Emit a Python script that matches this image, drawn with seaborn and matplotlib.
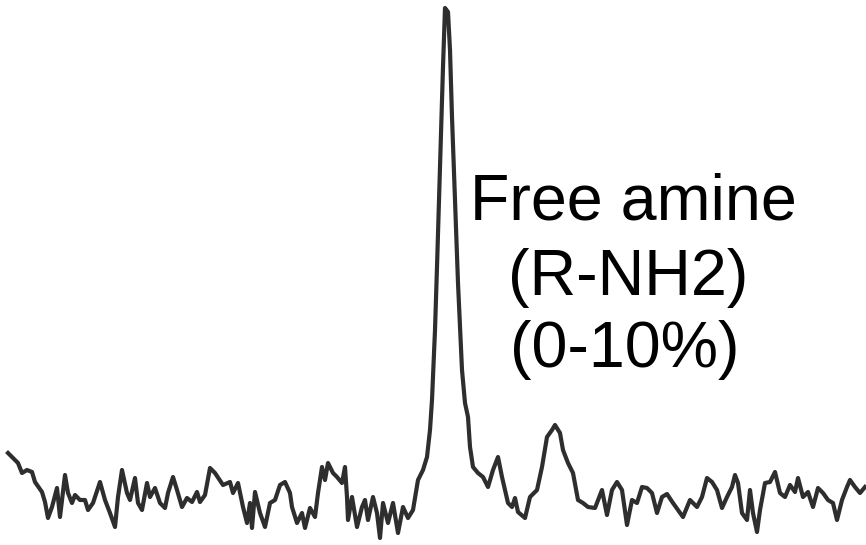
import matplotlib
matplotlib.use("Agg")
import matplotlib.pyplot as plt
import seaborn as sns
import pandas as pd

# Trace of the spectrum (position along the axis, signal height)
position = [8, 13, 18, 22, 27, 32, 35, 42, 45, 48, 52, 57, 60, 65, 68, 72, 75, 80, 85, 88,
            93, 100, 105, 110, 115, 118, 122, 127, 130, 135, 138, 142, 147, 150, 155, 160, 165, 168, 173, 177,
            182, 187, 192, 197, 200, 205, 210, 215, 223, 230, 233, 238, 243, 247, 250, 252, 255, 260, 265, 270,
            275, 280, 285, 290, 292, 297, 302, 305, 310, 315, 318, 322, 325, 328, 333, 337, 342, 345, 347, 348,
            352, 357, 362, 365, 368, 373, 377, 380, 383, 388, 393, 398, 403, 408, 413, 418, 423, 427, 430, 432,
            435, 437, 440, 443, 445, 448, 450, 452, 455, 458, 462, 465, 468, 470, 473, 478, 483, 488, 493, 498,
            502, 508, 512, 515, 518, 525, 530, 537, 542, 547, 552, 555, 560, 563, 568, 573, 578, 583, 588, 595,
            602, 607, 612, 617, 622, 627, 632, 637, 642, 647, 652, 657, 662, 667, 673, 678, 683, 690, 697, 702,
            707, 712, 717, 722, 727, 732, 735, 738, 742, 747, 750, 753, 757, 760, 765, 770, 775, 780, 785, 790,
            795, 798, 803, 808, 813, 818, 823, 828, 833, 837, 842, 847, 850, 855, 860, 865]
pixel_row = [453, 458, 463, 473, 470, 472, 482, 492, 502, 518, 507, 488, 517, 475, 493, 503, 495, 500, 500, 510,
             503, 482, 500, 513, 527, 497, 470, 493, 500, 478, 503, 510, 483, 497, 488, 503, 508, 493, 477, 490,
             507, 498, 502, 492, 502, 495, 468, 473, 485, 482, 493, 483, 507, 523, 503, 528, 492, 513, 527, 503,
             500, 485, 482, 493, 507, 523, 513, 528, 508, 517, 493, 467, 480, 463, 473, 477, 483, 467, 497, 520,
             497, 527, 507, 500, 520, 497, 513, 538, 503, 523, 503, 533, 507, 518, 510, 480, 470, 457, 430, 400,
             330, 267, 167, 67, 8, 12, 50, 117, 200, 283, 370, 403, 417, 447, 467, 473, 477, 487, 470, 457,
             477, 503, 507, 498, 512, 518, 497, 490, 467, 437, 430, 425, 433, 450, 463, 473, 500, 503, 507, 508,
             490, 515, 490, 482, 490, 525, 500, 503, 487, 488, 493, 513, 497, 494, 503, 510, 517, 500, 507, 497,
             478, 482, 490, 508, 497, 487, 475, 483, 513, 520, 490, 513, 532, 510, 483, 482, 472, 493, 497, 485,
             492, 478, 497, 492, 507, 488, 493, 500, 503, 520, 500, 487, 480, 487, 493, 487]
signal = [545 - r for r in pixel_row]

label_lines = ["Free amine", "(R-NH2)", "(0-10%)"]

W, H = 866, 545
fig = plt.figure(figsize=(W / 100, H / 100), dpi=100)
ax = fig.add_axes([0, 0, 1, 1])

df = pd.DataFrame({"position": position, "signal": signal})
sns.lineplot(data=df, x="position", y="signal", ax=ax, color="#2e2e2e",
             linewidth=3.0, estimator=None, sort=False)

ax.set_xlim(0, W)
ax.set_ylim(0, H)
ax.axis("off")

# label lines: (x-centre, baseline) in the same units
label_pos = [(633, 545 - 220), (628, 545 - 295), (625, 545 - 367)]
for txt, (tx, ty) in zip(label_lines, label_pos):
    ax.text(tx, ty, txt, fontsize=46.5, family=["Liberation Sans", "DejaVu Sans"],
            ha="center", va="baseline", color="black")

fig.savefig("out.png", dpi=100, facecolor="white")
